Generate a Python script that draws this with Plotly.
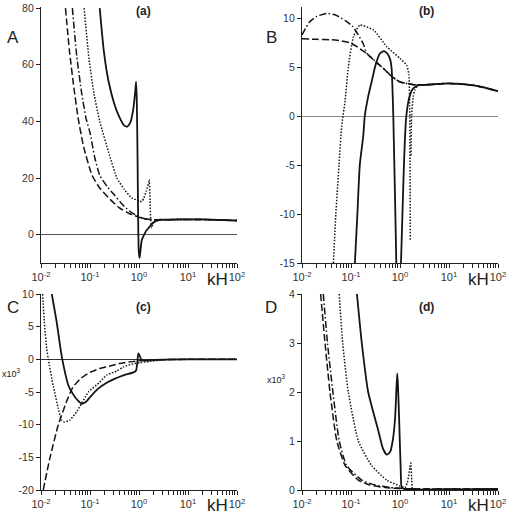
import plotly.graph_objects as go

# ---------------- data (kH, value) ----------------
# panel (a)
a_solid_kh = [0.158, 0.191, 0.24, 0.316, 0.398, 0.501, 0.575, 0.661, 0.759, 0.832, 0.871, 0.9, 0.93, 0.955, 0.97, 0.99, 1.03, 1.08, 1.135, 1.225, 1.38, 1.549, 1.95, 2.692, 3.981, 10, 31.6, 100]
a_solid_val = [80, 65, 54, 46, 41.5, 38.5, 38.2, 39.5, 44, 50, 54, 48, 30, 10, 0, -6, -8.2, -5, -2, -0.6, 1.2, 2.3, 4.3, 5.3, 5.35, 5.45, 5.35, 5.0]
a_dash_kh = [0.0316, 0.038, 0.0468, 0.0575, 0.0741, 0.11, 0.158, 0.257, 0.398, 0.631, 0.832, 1.0, 1.259, 1.995, 3.981, 10, 31.6, 100]
a_dash_val = [80, 65, 52, 41, 31, 21, 16.5, 12.5, 9.5, 7.5, 6.7, 6.2, 5.7, 5.3, 5.3, 5.4, 5.3, 5.0]
a_dashdot_kh = [0.0437, 0.0537, 0.0676, 0.0832, 0.1, 0.126, 0.158, 0.224, 0.316, 0.501, 0.708, 0.891, 1.122, 1.585, 2.512, 10, 31.6, 100]
a_dashdot_val = [80, 63, 50, 41, 36, 27, 21, 17, 14, 10, 7.8, 6.8, 6.0, 5.4, 5.3, 5.4, 5.3, 5.0]
a_dot_kh = [0.0759, 0.0955, 0.12, 0.158, 0.251, 0.355, 0.501, 0.708, 1.0, 1.135, 1.259, 1.413, 1.585, 1.622, 1.679, 1.738, 1.82, 1.905, 2.089, 2.512, 3.981, 10, 31.6, 100]
a_dot_val = [80, 62, 50, 40, 28, 20, 16, 13, 12, 11.7, 13, 15.5, 18.5, 19.4, 12, 5, 2.5, 3.5, 4.8, 5.2, 5.3, 5.4, 5.3, 5.0]

# panel (b)
b_solid1_kh = [0.12, 0.135, 0.151, 0.178, 0.191, 0.224, 0.263, 0.316, 0.389, 0.468, 0.55, 0.631, 0.676, 0.7, 0.73, 0.767, 0.804, 0.841]
b_solid1_val = [-15, -10, -5, -2, 0, 2, 3.5, 5.2, 6.4, 6.65, 6.4, 5.8, 4.8, 3, 0, -5, -10, -15]
b_solid2_kh = [1.047, 1.122, 1.202, 1.318, 1.445, 1.585, 1.778, 1.995, 2.512, 3.162, 6.31, 10, 31.6, 56.2, 100]
b_solid2_val = [-15, -10, -5, -0.5, 1.2, 2.1, 2.7, 2.95, 3.2, 3.2, 3.3, 3.35, 3.15, 2.9, 2.55]
b_dash_kh = [0.01, 0.02, 0.0398, 0.0631, 0.0955, 0.141, 0.209, 0.331, 0.501, 0.631, 0.794, 1.0, 1.585, 2.188, 3.162, 6.31, 10, 31.6, 56.2, 100]
b_dash_val = [7.9, 7.85, 7.8, 7.7, 7.5, 7.0, 6.4, 5.5, 4.7, 4.2, 3.8, 3.5, 3.3, 3.2, 3.2, 3.3, 3.35, 3.15, 2.9, 2.55]
b_dashdot_kh = [0.01, 0.0141, 0.02, 0.0324, 0.0501, 0.0794, 0.107, 0.141, 0.178, 0.209, 0.331, 0.501, 0.631, 0.794, 1.0, 1.585, 2.188, 3.162, 10, 31.6, 100]
b_dashdot_val = [8.3, 9.6, 10.2, 10.5, 10.3, 9.7, 9.2, 8.3, 7.4, 6.45, 5.5, 4.7, 4.2, 3.8, 3.5, 3.3, 3.2, 3.2, 3.35, 3.15, 2.55]
b_dot1_kh = [0.0437, 0.049, 0.0569, 0.0646, 0.0759, 0.0881, 0.112, 0.151, 0.288, 0.537, 1.0, 1.368, 1.514, 1.585, 1.622]
b_dot1_val = [-15, -10, -5, -1.0, 1.6, 5.0, 8.1, 9.3, 8.8, 7.1, 5.9, 5.2, 4.3, 0, -12.7]
b_dot2_kh = [1.679, 1.726, 1.862, 2.023, 2.344, 3.162]
b_dot2_val = [-4, 0, 2.0, 2.7, 3.2, 3.2]

# panel (c)  (values x10^3)
c_solid_kh = [0.0166, 0.0209, 0.0245, 0.0272, 0.0363, 0.0457, 0.0562, 0.0676, 0.0832, 0.1, 0.141, 0.219, 0.316, 0.479, 0.766, 0.871, 0.923, 0.968, 1.023, 1.135, 1.318, 1.995, 5.012, 100]
c_solid_val = [10, 5.7, 2.1, 0, -4, -5.4, -6.3, -6.8, -6.5, -5.8, -4.6, -3.6, -3.0, -2.45, -2.0, -1.7, -0.5, 0.9, 0.6, -0.15, -0.2, -0.1, 0, 0]
c_dash_kh = [0.0111, 0.0151, 0.0224, 0.0331, 0.0447, 0.0631, 0.1, 0.158, 0.251, 0.398, 0.708, 1.259, 3.162, 10, 100]
c_dash_val = [-20, -15.2, -10.1, -6.5, -4.3, -3.0, -2.0, -1.4, -1.05, -0.65, -0.35, -0.15, -0.05, 0, 0]
c_dot_kh = [0.0108, 0.0117, 0.0131, 0.0141, 0.0178, 0.0225, 0.0263, 0.0302, 0.0389, 0.0537, 0.0933, 0.158, 0.219, 0.351, 0.479, 0.766, 1.047, 1.66, 3.162, 10, 100]
c_dot_val = [10, 5.7, 1.6, 0, -4.1, -7.5, -9.3, -9.6, -9.3, -8.0, -5.0, -3.5, -2.4, -1.8, -1.17, -0.66, -0.5, -0.3, -0.1, 0, 0]

# panel (d)  (values x10^3)
d_solid_kh = [0.132, 0.166, 0.224, 0.363, 0.447, 0.537, 0.631, 0.708, 0.794, 0.851, 0.881, 0.912, 0.968, 1.033, 1.084, 1.259, 100]
d_solid_val = [4, 3, 2, 1.2, 0.85, 0.72, 0.78, 1.0, 1.46, 2.14, 2.38, 2.1, 1.33, 0.44, 0.05, 0.02, 0.02]
d_dash_kh = [0.024, 0.0295, 0.0372, 0.0513, 0.0759, 0.141, 0.245, 0.501, 1.0, 3.162, 100]
d_dash_val = [4.0, 3, 2, 1, 0.5, 0.2, 0.1, 0.05, 0.03, 0.02, 0.02]
d_dashdot_kh = [0.0272, 0.0331, 0.0427, 0.0575, 0.0813, 0.166, 0.316, 0.631, 1.259, 3.162, 100]
d_dashdot_val = [4, 3, 2, 1, 0.5, 0.2, 0.1, 0.05, 0.03, 0.02, 0.02]
d_dot_kh = [0.0575, 0.0676, 0.0881, 0.141, 0.263, 0.537, 1.0, 1.259, 1.413, 1.585, 1.66, 1.738, 1.82, 3.162, 100]
d_dot_val = [4, 3, 2, 1, 0.5, 0.2, 0.08, 0.05, 0.15, 0.45, 0.55, 0.2, 0.0, 0.01, 0.01]

x_major = [0.01, 0.1, 1, 10, 100]
x_major_text = ["10<sup>-2</sup>", "10<sup>-1</sup>", "10<sup>0</sup>", "10<sup>1</sup>", "10<sup>2</sup>"]
x_minor = [m * 10 ** e for e in (-2, -1, 0, 1) for m in range(2, 10)]
x_tickvals = x_major + x_minor
x_ticktext = x_major_text + [""] * len(x_minor)
a_yticks = [0, 20, 40, 60, 80]
b_yticks = [-15, -10, -5, 0, 5, 10]
c_yticks = [-20, -15, -10, -5, 0, 5, 10]
d_yticks = [0, 1, 2, 3, 4]

# ---------------- styles ----------------
INK = "#141414"
STY = {
    "solid": dict(color=INK, width=1.8),
    "dash": dict(color=INK, width=1.5, dash="7px,3px"),
    "dashdot": dict(color=INK, width=1.5, dash="7px,2.5px,1.5px,2.5px"),
    "dot": dict(color=INK, width=1.5, dash="1.5px,1.6px"),
}

fig = go.Figure()

def add(xs, ys, sty, ax):
    fig.add_trace(go.Scatter(x=xs, y=ys, mode="lines", line=dict(**STY[sty], shape="spline", smoothing=0.5),
                             xaxis="x" + ax, yaxis="y" + ax, showlegend=False, hoverinfo="skip"))

add(a_dash_kh, a_dash_val, "dash", "")
add(a_dashdot_kh, a_dashdot_val, "dashdot", "")
add(a_dot_kh, a_dot_val, "dot", "")
add(a_solid_kh, a_solid_val, "solid", "")

add(b_dash_kh, b_dash_val, "dash", "2")
add(b_dashdot_kh, b_dashdot_val, "dashdot", "2")
add(b_dot1_kh, b_dot1_val, "dot", "2")
add(b_dot2_kh, b_dot2_val, "dot", "2")
add(b_solid1_kh, b_solid1_val, "solid", "2")
add(b_solid2_kh, b_solid2_val, "solid", "2")

add(c_dash_kh, c_dash_val, "dash", "3")
add(c_dot_kh, c_dot_val, "dot", "3")
add(c_solid_kh, c_solid_val, "solid", "3")

add(d_dash_kh, d_dash_val, "dash", "4")
add(d_dashdot_kh, d_dashdot_val, "dashdot", "4")
add(d_dot_kh, d_dot_val, "dot", "4")
add(d_solid_kh, d_solid_val, "solid", "4")

FONT = "Liberation Sans, Arial, sans-serif"

def xaxis(dom, anchor):
    return dict(type="log", range=[-2, 2], domain=dom, anchor=anchor, automargin=False,
                showline=True, linecolor="#222", linewidth=1.2, mirror=False,
                showgrid=False, zeroline=False,
                tickmode="array", tickvals=x_tickvals, ticktext=x_ticktext,
                ticks="outside", ticklen=4, tickwidth=1, tickcolor="#222",
                tickfont=dict(family=FONT, size=11, color="#333"))

def yaxis(dom, anchor, rng, ticks, zl, zlc="#555", zlw=1):
    return dict(range=rng, domain=dom, anchor=anchor, automargin=False,
                showline=True, linecolor="#222", linewidth=1.2, showgrid=False,
                zeroline=zl, zerolinecolor=zlc, zerolinewidth=zlw,
                tickmode="array", tickvals=ticks, ticktext=[str(t) for t in ticks],
                ticks="outside", ticklen=4, tickwidth=1, tickcolor="#222",
                tickfont=dict(family=FONT, size=10.5, color="#333"))

XL = [41 / 512, 237 / 512]
XR = [302 / 512, 498 / 512]
YT = [0.4911, 0.9855]
YB = [1 - 490 / 517, 1 - 294 / 517]

fig.update_layout(
    width=512, height=517, margin=dict(l=0, r=0, t=0, b=0, autoexpand=False),
    paper_bgcolor="white", plot_bgcolor="white",
    xaxis=xaxis(XL, "y"), yaxis=yaxis(YT, "x", [-10, 80.2], a_yticks, True, "#555", 1),
    xaxis2=xaxis(XR, "y2"), yaxis2=yaxis(YT, "x2", [-15, 11.1], b_yticks, True, "#8a8a8a", 1.3),
    xaxis3=xaxis(XL, "y3"), yaxis3=yaxis(YB, "x3", [-20, 10], c_yticks, True, "#333", 1),
    xaxis4=xaxis(XR, "y4"), yaxis4=yaxis(YB, "x4", [0, 4], d_yticks, False),
)

def note(text, x, y, size, bold=False):
    fig.add_annotation(text=("<b>%s</b>" % text) if bold else text, x=x / 512, y=1 - y / 517,
                       xref="paper", yref="paper", showarrow=False,
                       font=dict(family=FONT, size=size, color="#222"), xanchor="center", yanchor="middle")

for t, x, y in [("A", 13, 38), ("B", 271, 37), ("C", 13, 307), ("D", 271, 307)]:
    note(t, x, y, 17)
for t, x, y in [("(a)", 143.5, 11), ("(b)", 426, 11), ("(c)", 143.5, 307), ("(d)", 426, 307)]:
    note(t, x, y, 12, bold=True)
for x, y in [(217, 279), (478, 279), (217, 505), (478, 505)]:
    note("kH", x, y, 17)
note("x10<sup>3</sup>", 11, 373, 9)
note("x10<sup>3</sup>", 276, 379, 9)

fig.write_html("out.html", config={"displayModeBar": False},
               post_script="document.body.style.margin='0';document.body.style.padding='0';document.body.style.overflow='hidden';")
